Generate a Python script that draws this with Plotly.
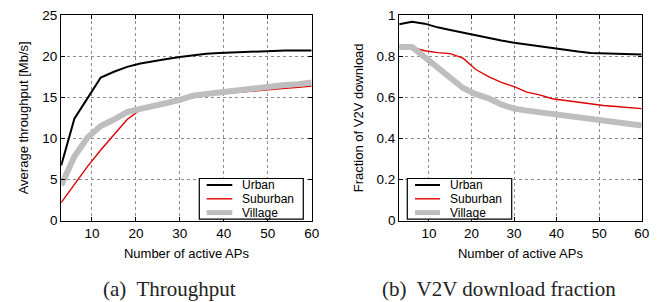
import plotly.graph_objects as go

# ---------------- data ----------------
aps = [3, 6, 9, 12, 15, 18, 21, 24, 27, 30, 33, 36, 39, 42, 45, 48, 51, 54, 57, 60]

thr_urban = [6.7, 12.4, 14.9, 17.4, 18.1, 18.7, 19.1, 19.4, 19.65, 19.9, 20.1, 20.3,
             20.38, 20.45, 20.52, 20.6, 20.65, 20.7, 20.7, 20.7]
thr_suburban = [2.2, 4.4, 6.6, 8.6, 10.5, 12.3, 13.5, 14.1, 14.35, 14.65, 15.0, 15.25,
                15.4, 15.55, 15.7, 15.85, 16.0, 16.1, 16.2, 16.35]
thr_village = [4.3, 7.8, 10.1, 11.5, 12.3, 13.2, 13.6, 13.9, 14.3, 14.7, 15.2, 15.4,
               15.6, 15.8, 16.0, 16.1, 16.3, 16.5, 16.6, 16.8]

v2v_urban = [0.955, 0.967, 0.958, 0.940, 0.927, 0.914, 0.899, 0.888, 0.876, 0.865,
             0.856, 0.847, 0.838, 0.830, 0.822, 0.815, 0.813, 0.811, 0.810, 0.808]
v2v_suburban = [0.845, 0.842, 0.826, 0.817, 0.812, 0.790, 0.735, 0.700, 0.672, 0.652,
                0.625, 0.612, 0.593, 0.585, 0.575, 0.566, 0.560, 0.555, 0.550, 0.545]
v2v_village = [0.845, 0.845, 0.795, 0.745, 0.700, 0.645, 0.615, 0.595, 0.565, 0.545,
               0.535, 0.527, 0.515, 0.505, 0.497, 0.490, 0.485, 0.478, 0.470, 0.463]

series_names = ["Urban", "Suburban", "Village"]
x_ticks = [10, 20, 30, 40, 50, 60]
thr_ticks = [0, 5, 10, 15, 20, 25]
v2v_ticks = [0, 0.2, 0.4, 0.6, 0.8, 1]
v2v_ticklabels = ["0", "0.2", "0.4", "0.6", "0.8", "1"]

# ---------------- styling ----------------
W, H = 660, 302
colors = ["#000000", "#e00000", "#bebebe"]
widths = [2, 1.4, 6]
FONT = "Liberation Sans, Arial, sans-serif"
SERIF = "Liberation Serif, Times New Roman, serif"


def px(x):
    return x / W


def py(y):
    return 1 - y / H


fig = go.Figure()

for vals, c, w, n in zip([thr_urban, thr_suburban, thr_village], colors, widths, series_names):
    fig.add_trace(go.Scatter(x=aps, y=vals, mode="lines", name=n,
                             line=dict(color=c, width=w), xaxis="x", yaxis="y",
                             showlegend=False))
for vals, c, w, n in zip([v2v_urban, v2v_suburban, v2v_village], colors, widths, series_names):
    fig.add_trace(go.Scatter(x=aps, y=vals, mode="lines", name=n,
                             line=dict(color=c, width=w), xaxis="x2", yaxis="y2",
                             showlegend=False))

ydom = [py(220.7), py(15)]
axis_common = dict(showline=True, linecolor="black", linewidth=1.2, mirror="ticks",
                   ticks="inside", ticklen=4, tickcolor="black",
                   showgrid=True, gridcolor="#8c8c8c", griddash="dot", gridwidth=1,
                   zeroline=False, tickfont=dict(family=FONT, size=13.5, color="black"),
                   automargin=False)

fig.update_layout(
    width=W, height=H,
    margin=dict(l=0, r=0, t=0, b=0),
    paper_bgcolor="white", plot_bgcolor="white",
    showlegend=False,
    xaxis=dict(axis_common, domain=[px(61.2), px(311.7)], range=[3, 60],
               tickvals=x_ticks, anchor="y",
               title=dict(text="Number of active APs", standoff=8,
                          font=dict(family=FONT, size=13, color="black"))),
    yaxis=dict(axis_common, domain=ydom, range=[0, 25], tickvals=thr_ticks, anchor="x",
               title=dict(text="Average throughput [Mb/s]", standoff=10,
                          font=dict(family=FONT, size=13, color="black"))),
    xaxis2=dict(axis_common, domain=[px(399.2), px(641.7)], range=[3, 60],
                tickvals=x_ticks, anchor="y2",
                title=dict(text="Number of active APs", standoff=8,
                           font=dict(family=FONT, size=13, color="black"))),
    yaxis2=dict(axis_common, domain=ydom, range=[0, 1], tickvals=v2v_ticks,
                ticktext=v2v_ticklabels, anchor="x2",
                title=dict(text="Fraction of V2V download", standoff=10,
                           font=dict(family=FONT, size=13, color="black"))),
)

# ---------------- legends (drawn in pixel space) ----------------
shapes = []
annotations = []
row_y = [185.0, 198.8, 212.6]
for (bx0, bx1, lx0, lx1, tx) in [(199.3, 303.3, 206.7, 232.3, 240.7),
                                 (407.3, 511.7, 415.0, 440.0, 449.3)]:
    shapes.append(dict(type="rect", xref="paper", yref="paper",
                       x0=px(bx0), x1=px(bx1), y0=py(219.2), y1=py(178.5),
                       line=dict(color="black", width=1.2), fillcolor="white", layer="above"))
    for yy, c, w, n in zip(row_y, colors, widths, series_names):
        shapes.append(dict(type="line", xref="paper", yref="paper",
                           x0=px(lx0), x1=px(lx1), y0=py(yy), y1=py(yy),
                           line=dict(color=c, width=min(w, 5)), layer="above"))
        annotations.append(dict(text=n, xref="paper", yref="paper", x=px(tx), y=py(yy),
                                xanchor="left", yanchor="middle", showarrow=False,
                                borderpad=0,
                                font=dict(family=FONT, size=12, color="black")))

# captions
annotations.append(dict(text="(a)  Throughput", xref="paper", yref="paper",
                        x=px(169), y=py(289), xanchor="center", yanchor="middle",
                        showarrow=False, font=dict(family=SERIF, size=21, color="#222222")))
annotations.append(dict(text="(b)  V2V download fraction", xref="paper", yref="paper",
                        x=px(499), y=py(289), xanchor="center", yanchor="middle",
                        showarrow=False, font=dict(family=SERIF, size=21, color="#222222")))

fig.update_layout(shapes=shapes, annotations=annotations)

fig.write_html("out.html",
               config={"displayModeBar": False},
               post_script="document.body.style.margin='0';"
                           "document.body.style.overflow='hidden';"
                           "document.documentElement.style.overflow='hidden';")
